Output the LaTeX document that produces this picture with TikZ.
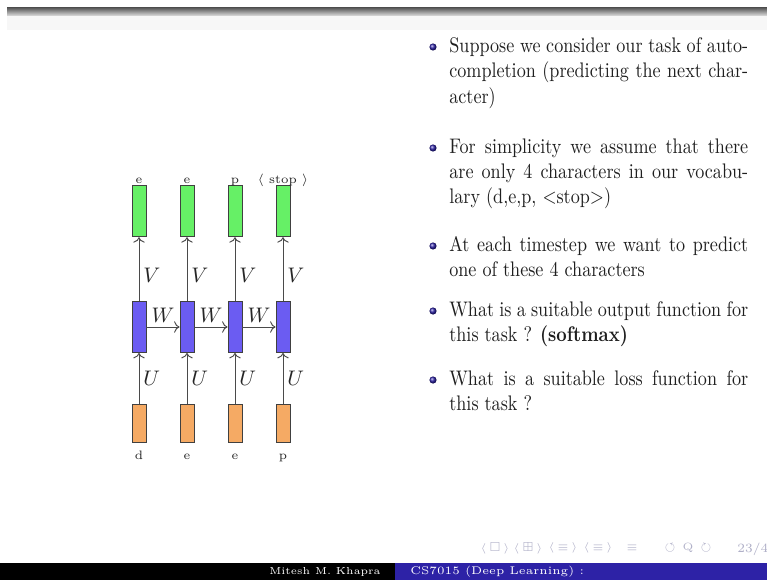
\documentclass[tikz,border=0pt]{standalone}
\usepackage{amsmath,amssymb}
\usepackage{tikz}
\usetikzlibrary{arrows.meta,positioning,shadings}
\usepackage{xcolor}
\definecolor{outgreen}{HTML}{66F066}
\definecolor{hidblue}{HTML}{6B5CF2}
\definecolor{inorange}{HTML}{F5AA64}
\definecolor{footblue}{HTML}{2D22A6}
\definecolor{navgray}{HTML}{B0B0C8}
\definecolor{wiregray}{HTML}{4A4A4A}

\tikzset{
  cell/.style={draw=black!75, line width=0.4pt, minimum width=2.35mm, inner sep=0pt},
  outcell/.style={cell, fill=outgreen, minimum height=8.6mm},
  hidcell/.style={cell, fill=hidblue, minimum height=8.5mm},
  incell/.style={cell, fill=inorange, minimum height=6.45mm},
  wire/.style={->, draw=wiregray, line width=0.45pt},
  charlbl/.style={font=\fontsize{5.8}{7}\selectfont, inner sep=0pt, text=black!85},
  wlbl/.style={font=\normalsize, inner sep=1.8pt, text=black!85},
  bulletpar/.style={anchor=base west, xscale=0.86, transform shape, text width=165pt, align=justify, inner sep=0pt, font=\fontsize{10}{12.1}\selectfont, text=black!88},
  bulletdot/.style={circle, inner sep=0pt, minimum size=1.2mm, ball color=footblue},
  navsym/.style={font=\fontsize{5}{6}\selectfont, text=navgray, inner sep=0pt},
  foottext/.style={font=\fontsize{5.3}{6.5}\selectfont, text=white, inner sep=0pt},
}

\begin{document}
\begin{tikzpicture}[x=0.16688mm, y=-0.16688mm]
  \useasboundingbox (0,0) rectangle (767,580);
  \fill[white] (0,0) rectangle (767,580);

  % top rule of the slide
  \shade[top color=black!70, bottom color=black!12] (7,7) rectangle (767,16);
  \fill[black!3] (7,16) rectangle (767,30);

  % footline
  \fill[black] (0,563) rectangle (395,580);
  \fill[footblue] (395,563) rectangle (767,580);
  \node[foottext, anchor=east, font=\fontsize{4.8}{6}\selectfont] (author) at (381,571.5) {Mitesh M. Khapra};
  \node[foottext, anchor=west] (course) at (410,571.5) {CS7015 (Deep Learning) :};

  % navigation symbols
  \node[navsym] (navframe) at (495,548) {$\langle\,\square\,\rangle$};
  \node[navsym] (navsub) at (528,548) {$\langle\,\boxplus\,\rangle$};
  \node[navsym] (navsec) at (563,548) {$\langle\,\equiv\,\rangle$};
  \node[navsym] (navsubsec) at (598,548) {$\langle\,\equiv\,\rangle$};
  \node[navsym] (navdoc) at (632,548) {$\equiv$};
  \node[navsym] (navsearch) at (688,548) {$\circlearrowleft\,\mathrm{Q}\,\circlearrowright$};
  \node[navsym, anchor=west, font=\fontsize{6}{7}\selectfont] (pageno) at (737,549) {23/4};

  % output layer
  \node[outcell] (y1) at (139,211) {};
  \node[outcell] (y2) at (187,211) {};
  \node[outcell] (y3) at (235,211) {};
  \node[outcell] (y4) at (283,211) {};
  % hidden layer
  \node[hidcell] (s1) at (139,327) {};
  \node[hidcell] (s2) at (187,327) {};
  \node[hidcell] (s3) at (235,327) {};
  \node[hidcell] (s4) at (283,327) {};
  % input layer
  \node[incell] (x1) at (139,423.3) {};
  \node[incell] (x2) at (187,423.3) {};
  \node[incell] (x3) at (235,423.3) {};
  \node[incell] (x4) at (283,423.3) {};

  % characters
  \node[charlbl, anchor=base] (ty1) at (139,183) {e};
  \node[charlbl, anchor=base] (ty2) at (187,183) {e};
  \node[charlbl, anchor=base] (ty3) at (235,183) {p};
  \node[charlbl, anchor=base] (ty4) at (283,183) {$\langle$ stop $\rangle$};
  \node[charlbl, anchor=base] (tx1) at (139,459) {d};
  \node[charlbl, anchor=base] (tx2) at (187,459) {e};
  \node[charlbl, anchor=base] (tx3) at (235,459) {e};
  \node[charlbl, anchor=base] (tx4) at (283,459) {p};

  % connections
  \draw[wire] (x1) -- node[wlbl, right] {$U$} (s1);
  \draw[wire] (x2) -- node[wlbl, right] {$U$} (s2);
  \draw[wire] (x3) -- node[wlbl, right] {$U$} (s3);
  \draw[wire] (x4) -- node[wlbl, right] {$U$} (s4);
  \draw[wire] (s1) -- node[wlbl, right, pos=0.4] {$V$} (y1);
  \draw[wire] (s2) -- node[wlbl, right, pos=0.4] {$V$} (y2);
  \draw[wire] (s3) -- node[wlbl, right, pos=0.4] {$V$} (y3);
  \draw[wire] (s4) -- node[wlbl, right, pos=0.4] {$V$} (y4);
  \draw[wire] (s1) -- node[wlbl, above] {$W$} (s2);
  \draw[wire] (s2) -- node[wlbl, above] {$W$} (s3);
  \draw[wire] (s3) -- node[wlbl, above] {$W$} (s4);

  % bullet points
  \node[bulletdot] (d1) at (433,47) {};
  \node[bulletpar] (p1) at (449,52.5) {Suppose we consider our task of auto-\linebreak completion (predicting the next char-\linebreak acter)};
  \node[bulletdot] (d2) at (433,148) {};
  \node[bulletpar] (p2) at (449,153) {For simplicity we assume that there\linebreak are only 4 characters in our vocabu-\linebreak lary (d,e,p, \textless stop\textgreater)};
  \node[bulletdot] (d3) at (433,246) {};
  \node[bulletpar] (p3) at (449,251) {At each timestep we want to predict\linebreak one of these 4 characters};
  \node[bulletdot] (d4) at (433,311) {};
  \node[bulletpar] (p4) at (449,316) {What is a suitable output function for\linebreak this task ? \textbf{(softmax)}};
  \node[bulletdot] (d5) at (433,380) {};
  \node[bulletpar] (p5) at (449,385) {What is a suitable loss function for\linebreak this task ?};
\end{tikzpicture}
\end{document}
